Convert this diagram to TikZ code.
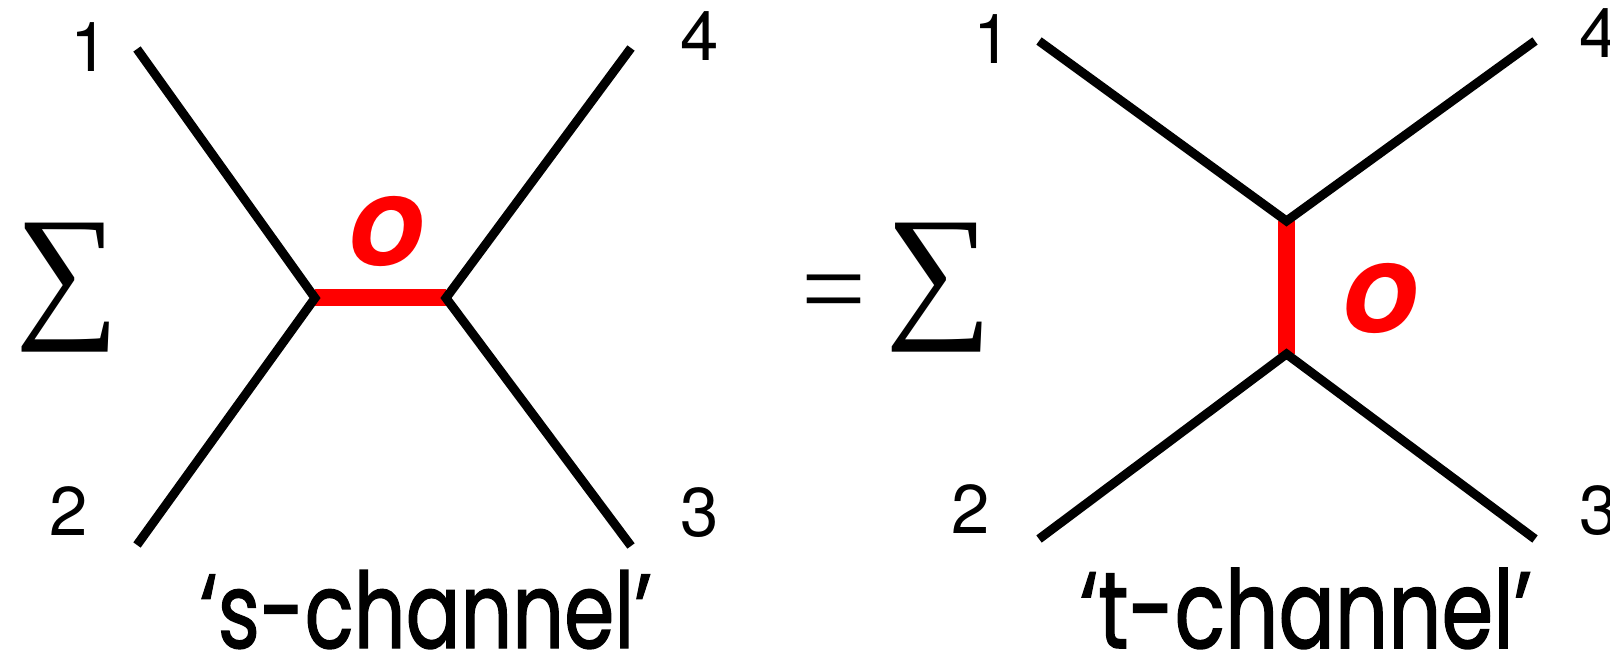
\documentclass[tikz,border=0pt]{standalone}
\usepackage{fontspec}
\usepackage{graphicx}
\newfontfamily\digitfont{TeX Gyre Heros}
\newfontfamily\serfont{Liberation Serif}
\newfontfamily\chanfont[FakeBold=1.4]{Poppins}
\definecolor{feynred}{RGB}{255,0,0}
\newcommand{\chantext}[1]{\scalebox{1}[1.3]{\resizebox{452pt}{!}{\chanfont\fontsize{85}{100}\selectfont #1}}}
\begin{document}
\begin{tikzpicture}[x=1pt,y=-1pt,
  leg/.style={line width=9pt, line join=miter, line cap=butt, black},
  prop/.style={line width=17pt, feynred},
  num/.style={inner sep=0pt, anchor=base, font=\digitfont\fontsize{69}{80}\selectfont},
  lbl/.style={inner sep=0pt, text=feynred, font=\digitfont\bfseries\itshape\fontsize{126}{140}\selectfont},
  sym/.style={inner sep=0pt},
  chan/.style={inner sep=0pt, anchor=base}]
\useasboundingbox (0,0) rectangle (1610,652);
% ---------- s-channel ----------
\coordinate (a1) at (137,49);
\coordinate (a2) at (137,545);
\coordinate (a4) at (631,48);
\coordinate (a3) at (631,546);
\coordinate (v1) at (315,298);
\coordinate (v2) at (446,298);
\draw[prop] (v1) -- (v2);
\draw[leg] (a1) -- (v1) -- (a2);
\draw[leg] (a4) -- (v2) -- (a3);
\node[num] (n1) at (90,72) {1};
\node[num] (n2) at (69,535) {2};
\node[num] (n4) at (700,61) {4};
\node[num] (n3) at (700,536) {3};
\node[lbl] (os) at (386,231) {o};
\node[sym] (sum1) at (68,287.5) {\resizebox*{104pt}{129pt}{\serfont ∑}};
\node[chan] (sch) at (426,648) {\chantext{‘s-channel’}};
% ---------- t-channel ----------
\coordinate (b1) at (1039,41);
\coordinate (b4) at (1535,41);
\coordinate (b2) at (1039,539);
\coordinate (b3) at (1535,539);
\coordinate (u1) at (1286.5,221);
\coordinate (u2) at (1286.5,354);
\draw[prop] (u1) -- (u2);
\draw[leg] (b1) -- (u1) -- (b4);
\draw[leg] (b2) -- (u2) -- (b3);
\node[num] (m1) at (993,64) {1};
\node[num] (m2) at (971,533) {2};
\node[num] (m4) at (1599,58) {4};
\node[num] (m3) at (1599,534) {3};
\node[lbl] (ot) at (1380,298) {o};
\node[sym, anchor=base, font=\serfont\fontsize{115}{120}\selectfont] (eq) at (834,328) {=};
\node[sym] (sum2) at (939.5,287.5) {\resizebox*{107pt}{129pt}{\serfont ∑}};
\node[chan] (tch) at (1306,648) {\chantext{‘t-channel’}};
\end{tikzpicture}
\end{document}
